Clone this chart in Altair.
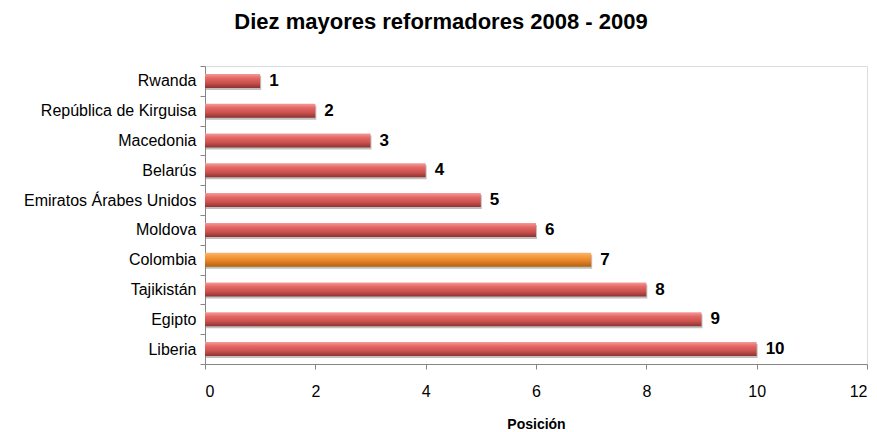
import altair as alt
import pandas as pd

countries = ["Rwanda", "República de Kirguisa", "Macedonia", "Belarús",
             "Emiratos Árabes Unidos", "Moldova", "Colombia", "Tajikistán",
             "Egipto", "Liberia"]
positions = [1, 2, 3, 4, 5, 6, 7, 8, 9, 10]
highlight = "Colombia"

df = pd.DataFrame({"pais": countries, "pos": positions})

FONT = "Liberation Sans"

red_grad = alt.Gradient(
    gradient="linear", x1=0, x2=0, y1=0, y2=1,
    stops=[alt.GradientStop(color="#f49b99", offset=0),
           alt.GradientStop(color="#e46764", offset=0.3),
           alt.GradientStop(color="#c9514e", offset=0.65),
           alt.GradientStop(color="#8e3230", offset=1)])
orange_grad = alt.Gradient(
    gradient="linear", x1=0, x2=0, y1=0, y2=1,
    stops=[alt.GradientStop(color="#fbb56d", offset=0),
           alt.GradientStop(color="#f59a3f", offset=0.3),
           alt.GradientStop(color="#e07e22", offset=0.65),
           alt.GradientStop(color="#b0600f", offset=1)])

y_enc = alt.Y("pais:N", sort=countries, title=None,
              scale=alt.Scale(paddingInner=0, paddingOuter=0),
              axis=alt.Axis(labelFont=FONT, labelFontSize=16, labelColor="#000000",
                            domainColor="#868686", tickColor="#868686",
                            tickSize=5, tickBand="extent", labelPadding=4,
                            grid=False))
x_enc = alt.X("pos:Q", title="Posición",
              scale=alt.Scale(domain=[0, 12], nice=False),
              axis=alt.Axis(values=[0, 2, 4, 6, 8, 10, 12], labelFont=FONT,
                            labelFontSize=16, labelColor="#000000",
                            domainColor="#868686", tickColor="#868686",
                            tickSize=5, labelPadding=14, grid=False,
                            titleFont=FONT, titleFontSize=14, titleFontWeight="bold",
                            titleColor="#000000", titlePadding=18))

base = alt.Chart(df)

shadow = base.mark_bar(size=14, yOffset=2, xOffset=1, color="#8c8c8c", opacity=0.55).encode(
    x=x_enc, y=y_enc)
bars_red = base.mark_bar(size=14, color=red_grad).encode(
    x=x_enc, y=y_enc).transform_filter(alt.datum.pais != highlight)
bars_or = base.mark_bar(size=14, color=orange_grad).encode(
    x=x_enc, y=y_enc).transform_filter(alt.datum.pais == highlight)
labels = base.mark_text(align="left", baseline="middle", dx=9, font=FONT,
                        fontSize=17, fontWeight="bold", color="#000000").encode(
    x=x_enc, y=y_enc, text="pos:Q")

chart = alt.layer(shadow, bars_red, bars_or, labels).properties(
    width=662, height=298,
    title=alt.TitleParams("Diez mayores reformadores 2008 - 2009", font=FONT,
                          fontSize=22, fontWeight="bold", color="#000000",
                          anchor="middle", dx=-95, offset=24),
    autosize=alt.AutoSizeParams(type="none"),
    padding={"left": 205, "top": 66, "right": 9, "bottom": 68},
).configure_view(stroke=None).configure(background="#ffffff")

chart.save("out.html", embed_options={"renderer": "svg", "actions": False})
